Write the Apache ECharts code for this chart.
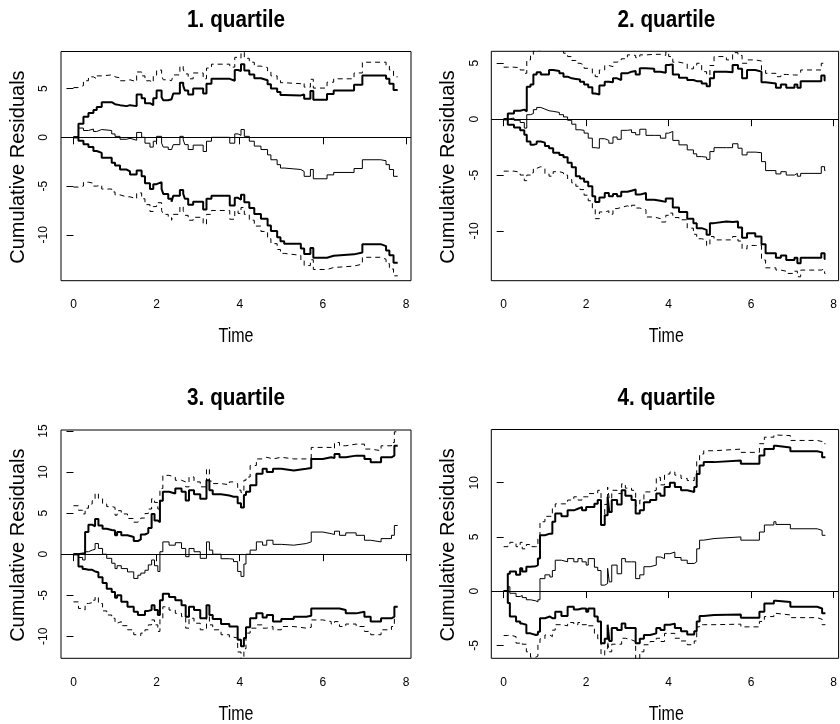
<!DOCTYPE html>
<html>
  <head>
    <meta charset="utf-8" />
    <title>Cumulative residuals by quartile</title>
    <script src="https://cdn.jsdelivr.net/npm/echarts@6/dist/echarts.min.js"></script>
    <style>html, body { margin: 0; padding: 0; background: #fff; }</style>
  </head>
  <body>
    <div id="main" style="width: 840px;height:724px;"></div>
    <script type="text/javascript">
      // values (step functions, value holds until next time)
      var titles = ['1. quartile', '2. quartile', '3. quartile', '4. quartile'];
      var xTicks = [0, 2, 4, 6, 8];
      var q1YTicks = [-10, -5, 0, 5];
      var q2YTicks = [-10, -5, 0, 5];
      var q3YTicks = [-10, -5, 0, 5, 10, 15];
      var q4YTicks = [-5, 0, 5, 10];

      // 1. quartile
      var q1Time = [0, 0.12, 0.24, 0.36, 0.48, 0.56, 0.68, 0.92, 1.0, 1.12, 1.28, 1.36, 1.52, 1.64, 1.72, 1.84, 1.92, 2.0, 2.12, 2.16,
        2.28, 2.36, 2.4, 2.56, 2.64, 2.68, 2.76, 2.88, 3.12, 3.2, 3.32, 3.76, 3.88, 3.96, 4.03, 4.11, 4.23, 4.35, 4.51, 4.67,
        4.75, 4.9, 4.98, 5.07, 5.47, 5.55, 5.7, 5.77, 6.1, 6.26, 6.75, 6.95, 7.39, 7.52, 7.6, 7.7, 7.8];
      var q1Obs = [0, 0.95, 0.7, 0.85, 0.6, 0.8, 0.7, 0.35, 0.1, -0.2, -0.1, -0.3, 0.5, 0.0, -0.6, -1.0, -0.4, 0.1, -0.6, -1.0,
        -1.25, -1.45, -0.75, 0.1, -0.25, -0.75, -1.25, -0.8, -1.45, -0.4, 0.0, -0.6, 0.35, 0.2, 0.8, 0.1, -0.4, -0.9, -1.25, -1.8,
        -2.3, -2.8, -3.15, -3.3, -3.5, -4.0, -3.3, -4.25, -3.85, -3.6, -3.2, -2.3, -2.4, -2.8, -3.3, -4.0, -4.0];
      var q1PtUp = [0, 1.4, 2.1, 2.5, 2.8, 3.1, 3.6, 3.4, 3.3, 3.2, 3.3, 3.2, 4.4, 4.0, 3.5, 3.3, 4.0, 4.8, 4.1, 3.8,
        3.9, 3.8, 4.5, 5.6, 5.3, 4.8, 4.4, 5.0, 4.5, 5.5, 6.0, 5.8, 6.9, 6.8, 7.5, 6.85, 6.45, 6.05, 5.85, 5.45,
        5.0, 4.65, 4.35, 4.3, 4.4, 3.95, 4.75, 3.85, 4.45, 4.8, 5.4, 6.35, 6.35, 6.0, 5.5, 4.85, 4.85];
      var q1PtLo = [0, -0.35, -0.7, -1.0, -1.4, -1.6, -2.1, -2.6, -2.9, -3.3, -3.5, -3.8, -3.4, -4.0, -4.7, -5.3, -4.8, -4.6, -5.3, -5.8,
        -6.3, -6.6, -6.0, -5.4, -5.8, -6.3, -6.9, -6.6, -7.4, -6.3, -6.0, -7.0, -6.2, -6.4, -5.9, -6.65, -7.25, -7.85, -8.35, -9.05,
        -9.6, -10.25, -10.65, -10.9, -11.4, -11.95, -11.35, -12.35, -12.15, -12.0, -11.8, -10.95, -11.15, -11.6, -12.1, -12.85, -12.85];
      var q1SimUp = [5.1, 5.3, 5.8, 6.2, 6.0, 6.3, 6.4, 6.2, 6.1, 5.8, 5.9, 5.7, 6.7, 6.3, 5.8, 5.6, 6.3, 6.9, 6.3, 5.9,
        5.8, 5.7, 6.4, 7.3, 7.0, 6.5, 6.0, 6.6, 6.0, 7.1, 7.5, 7.2, 8.2, 8.1, 8.7, 8.1, 7.7, 7.3, 7.15, 6.8,
        6.3, 5.9, 5.6, 5.5, 5.6, 5.15, 5.95, 5.05, 5.65, 6.0, 6.6, 7.7, 7.7, 7.35, 6.9, 6.2, 6.2];
      var q1SimLo = [-5.1, -5.0, -4.6, -4.7, -5.0, -4.9, -5.3, -5.6, -5.9, -6.1, -6.1, -6.3, -5.7, -6.3, -6.9, -7.6, -7.1, -6.7, -7.5, -7.9,
        -8.2, -8.5, -7.9, -7.1, -7.5, -8.0, -8.5, -8.2, -8.9, -7.9, -7.5, -8.4, -7.5, -7.8, -7.2, -7.9, -8.5, -9.1, -9.65, -10.4,
        -10.9, -11.5, -11.9, -12.1, -12.6, -13.15, -12.55, -13.55, -13.35, -13.2, -13.0, -12.3, -12.5, -12.95, -13.5, -14.2, -14.2];

      // 2. quartile
      var q2Time = [0, 0.1, 0.25, 0.4, 0.5, 0.56, 0.65, 0.72, 0.8, 0.9, 1.0, 1.1, 1.2, 1.35, 1.45, 1.55, 1.65, 1.75, 1.85, 1.95,
        2.05, 2.15, 2.22, 2.32, 2.45, 2.55, 2.65, 2.75, 2.85, 3.0, 3.1, 3.2, 3.3, 3.45, 3.65, 3.8, 3.93, 4.0, 4.1, 4.25,
        4.45, 4.6, 4.68, 4.8, 4.92, 5.0, 5.1, 5.4, 5.55, 5.68, 5.78, 5.9, 6.1, 6.25, 6.35, 6.6, 6.72, 6.85, 7.05, 7.12,
        7.2, 7.7, 7.78, 7.8];
      var q2Obs = [0, 0.1, -0.1, -0.3, -0.8, 0.4, 0.5, 0.85, 1.05, 0.9, 0.75, 0.7, 0.6, 0.4, 0.2, -0.1, -0.45, -0.95, -1.0, -1.25,
        -1.7, -2.55, -2.6, -1.75, -1.9, -2.15, -1.6, -1.8, -1.0, -0.95, -1.2, -1.4, -0.9, -1.45, -1.45, -1.7, -1.25, -1.1, -1.9, -2.3,
        -2.75, -3.1, -3.35, -3.4, -3.6, -2.9, -2.55, -2.55, -2.2, -2.6, -3.2, -2.95, -3.0, -3.8, -4.6, -4.9, -4.7, -5.0, -4.85, -5.1,
        -4.85, -4.25, -4.6, -4.6];
      var q2PtUp = [0, 0.5, 0.75, 0.85, 0.7, 2.9, 3.1, 4.0, 4.2, 4.0, 4.0, 4.4, 4.3, 4.1, 3.8, 3.65, 3.6, 3.55, 3.35, 3.1,
        2.85, 2.3, 2.2, 3.0, 3.35, 3.3, 3.65, 3.5, 4.1, 4.25, 4.3, 4.0, 4.55, 4.5, 4.25, 4.15, 4.85, 4.9, 4.0, 3.7,
        3.5, 3.4, 3.4, 3.2, 2.95, 3.65, 4.25, 4.2, 4.85, 4.5, 3.65, 4.4, 4.25, 3.3, 3.2, 2.8, 3.1, 2.8, 3.1, 2.8,
        3.4, 3.9, 3.45, 3.45];
      var q2PtLo = [0, -0.5, -0.75, -1.0, -1.4, -2.0, -2.3, -2.2, -2.0, -2.1, -2.4, -2.6, -3.0, -3.2, -3.4, -3.9, -4.3, -5.1, -5.3, -5.6,
        -6.0, -6.9, -7.4, -7.0, -6.6, -6.9, -6.7, -6.9, -6.5, -6.4, -6.3, -6.75, -6.6, -7.2, -7.3, -7.4, -7.1, -7.1, -7.9, -8.3,
        -8.9, -9.3, -9.75, -9.9, -10.35, -9.3, -9.15, -9.2, -9.15, -9.7, -10.6, -10.2, -10.5, -11.2, -12.0, -12.4, -12.2, -12.6, -12.4, -12.9,
        -12.4, -12.0, -12.5, -12.5];
      var q2SimUp = [4.65, 4.65, 4.6, 4.4, 4.1, 5.3, 5.75, 6.1, 6.2, 6.4, 6.3, 6.3, 6.2, 6.1, 5.9, 5.6, 5.25, 5.0, 4.85, 4.55,
        4.5, 4.0, 3.8, 4.4, 4.8, 4.7, 5.1, 5.2, 5.4, 5.75, 5.7, 5.5, 5.75, 5.8, 5.8, 5.7, 6.0, 5.6, 5.1, 4.95,
        4.5, 4.7, 5.0, 4.25, 3.95, 4.8, 5.6, 5.3, 5.95, 5.7, 5.0, 5.3, 5.2, 4.4, 4.1, 3.8, 4.0, 3.95, 3.95, 4.1,
        4.4, 5.0, 4.85, 4.85];
      var q2SimLo = [-4.65, -4.65, -4.75, -5.0, -5.5, -5.0, -4.8, -4.4, -4.25, -4.4, -4.9, -5.1, -4.7, -4.8, -5.0, -5.4, -5.7, -6.0, -6.3, -6.8,
        -7.3, -8.0, -8.9, -8.3, -8.2, -8.5, -8.0, -7.9, -7.75, -7.9, -7.7, -7.95, -8.1, -8.75, -8.9, -9.2, -8.6, -8.4, -8.8, -9.0,
        -9.75, -10.3, -10.7, -10.8, -11.3, -10.5, -10.8, -10.8, -10.5, -10.9, -11.6, -11.3, -11.3, -12.6, -13.3, -13.5, -13.6, -13.8, -13.6, -14.1,
        -13.5, -13.4, -13.8, -13.8];

      // 3. quartile
      var q3Time = [0, 0.12, 0.22, 0.28, 0.36, 0.45, 0.52, 0.6, 0.7, 0.8, 0.92, 1.0, 1.05, 1.15, 1.3, 1.45, 1.55, 1.62, 1.72, 1.8,
        1.88, 1.95, 2.03, 2.08, 2.15, 2.3, 2.45, 2.6, 2.7, 2.78, 2.9, 3.05, 3.2, 3.27, 3.35, 3.55, 3.75, 3.85, 3.95, 4.03,
        4.1, 4.15, 4.25, 4.4, 4.55, 4.65, 4.8, 5.0, 5.3, 5.6, 5.72, 6.0, 6.2, 6.28, 6.4, 6.55, 6.8, 7.0, 7.15, 7.4,
        7.65, 7.72, 7.8];
      var q3Obs = [0, -0.4, -0.7, 0.3, 0.5, 0.6, 1.3, 0.7, 0.0, -0.5, -1.1, -1.75, -1.4, -1.75, -2.15, -2.95, -2.55, -2.3, -1.95, -1.3,
        -0.7, -1.4, -2.1, 0.3, 1.5, 1.1, 1.4, 0.7, -0.3, 0.7, 0.3, -0.5, 1.5, 0.5, 0.0, -0.55, -0.6, -0.9, -2.1, -2.7,
        -1.2, 0.0, 0.5, 1.5, 1.1, 1.7, 1.2, 1.1, 1.3, 1.5, 2.7, 2.5, 2.4, 2.8, 2.3, 2.6, 2.3, 1.7, 1.5, 1.9,
        2.3, 3.5, 3.5];
      var q3PtUp = [0, 0.1, 0.1, 2.7, 3.6, 3.4, 4.3, 3.5, 3.1, 2.95, 2.9, 2.3, 2.7, 2.3, 2.1, 1.6, 1.8, 2.4, 2.6, 3.2,
        4.9, 4.1, 3.9, 6.5, 7.6, 7.4, 8.0, 7.6, 6.55, 7.8, 7.3, 6.75, 9.0, 7.8, 7.3, 7.15, 7.0, 7.0, 6.2, 5.7,
        7.2, 7.6, 8.4, 9.8, 10.4, 10.0, 10.4, 10.2, 10.4, 10.5, 11.6, 11.8, 11.7, 12.2, 11.8, 12.0, 12.0, 11.6, 11.2, 11.8,
        12.0, 13.2, 13.2];
      var q3PtLo = [0, -1.5, -1.8, -1.9, -1.9, -2.1, -2.2, -2.8, -3.5, -4.2, -4.6, -5.3, -5.0, -5.8, -6.4, -7.0, -7.4, -7.4, -6.9, -6.8,
        -6.2, -6.8, -7.4, -5.6, -4.8, -5.2, -5.6, -6.2, -7.6, -6.4, -6.8, -7.8, -6.2, -7.4, -7.9, -8.5, -8.8, -8.8, -10.4, -11.2,
        -10.2, -8.9, -7.8, -7.2, -7.7, -7.4, -8.2, -7.9, -7.6, -7.5, -6.6, -6.6, -6.6, -6.6, -6.8, -7.2, -7.0, -7.6, -8.2, -7.8,
        -7.6, -6.4, -6.4];
      var q3SimUp = [5.9, 5.35, 4.9, 5.6, 6.1, 6.5, 7.4, 6.8, 6.1, 5.8, 5.7, 4.75, 5.3, 4.9, 4.35, 3.9, 4.1, 4.4, 4.95, 5.5,
        6.75, 6.3, 5.5, 8.0, 9.6, 9.4, 9.0, 8.8, 8.2, 9.4, 8.8, 8.2, 10.4, 8.9, 8.6, 8.45, 8.8, 8.6, 7.8, 7.5,
        9.0, 9.4, 10.8, 11.6, 11.8, 11.6, 11.8, 11.6, 11.6, 11.7, 13.0, 13.0, 12.8, 13.6, 13.2, 13.4, 13.4, 12.8, 12.6, 13.2,
        13.6, 14.9, 14.9];
      var q3SimLo = [-5.8, -6.6, -6.8, -6.0, -5.9, -5.6, -5.2, -6.0, -6.9, -7.4, -7.8, -8.4, -8.2, -8.7, -9.2, -9.8, -9.9, -9.6, -9.2, -8.6,
        -8.0, -8.6, -9.4, -7.8, -6.4, -6.8, -7.2, -7.6, -9.0, -7.8, -8.4, -9.2, -7.4, -8.6, -9.2, -9.8, -10.1, -10.2, -11.9, -12.9,
        -11.5, -9.6, -9.0, -8.6, -9.0, -8.8, -9.2, -8.8, -9.0, -8.9, -8.0, -8.2, -8.5, -8.2, -8.8, -8.5, -8.8, -9.4, -9.8, -9.2,
        -8.8, -7.8, -7.8];

      // 4. quartile
      var q4Time = [0, 0.1, 0.15, 0.3, 0.4, 0.45, 0.55, 0.65, 0.78, 0.83, 0.88, 1.0, 1.12, 1.18, 1.25, 1.4, 1.55, 1.7, 1.8, 1.9,
        2.0, 2.05, 2.2, 2.28, 2.36, 2.45, 2.52, 2.56, 2.62, 2.75, 2.86, 2.95, 3.1, 3.2, 3.3, 3.4, 3.55, 3.7, 3.8, 3.9,
        4.03, 4.15, 4.3, 4.45, 4.62, 4.68, 4.75, 4.85, 5.1, 5.75, 6.2, 6.32, 6.55, 6.6, 6.95, 7.6, 7.72, 7.8];
      var q4Obs = [0, 0.4, -0.2, -0.5, -0.4, -0.6, -0.8, -0.9, -1.0, -0.8, 1.15, 1.5, 1.3, 1.9, 2.85, 2.7, 3.0, 2.7, 3.0, 2.7,
        2.4, 3.0, 2.2, 1.9, 0.55, 0.7, 2.1, 0.85, 2.4, 1.6, 3.0, 2.7, 2.7, 1.15, 1.5, 2.25, 2.4, 3.15, 3.0, 3.45,
        3.6, 3.1, 2.85, 2.55, 2.7, 3.9, 4.7, 4.85, 5.0, 4.7, 5.45, 6.1, 6.4, 6.15, 5.75, 5.6, 5.15, 5.15];
      var q4PtUp = [0, 1.6, 1.8, 1.5, 2.1, 1.8, 2.25, 2.3, 2.4, 3.0, 5.15, 5.3, 5.3, 6.4, 7.15, 6.9, 7.45, 7.6, 7.75, 7.45,
        7.75, 7.75, 8.05, 8.4, 6.1, 7.0, 8.7, 7.3, 8.4, 8.0, 9.3, 8.8, 8.4, 7.15, 7.45, 8.2, 8.4, 9.0, 8.8, 9.6,
        10.0, 9.6, 9.3, 9.15, 9.6, 10.8, 11.6, 11.9, 12.05, 11.75, 12.5, 13.1, 13.4, 13.25, 12.9, 12.8, 12.35, 12.35];
      var q4PtLo = [0, -1.1, -2.35, -2.8, -3.0, -3.1, -3.9, -4.05, -4.0, -3.75, -2.5, -2.35, -2.5, -2.5, -1.9, -2.3, -1.45, -1.7, -1.6, -1.6,
        -1.9, -1.6, -2.35, -2.8, -4.8, -4.4, -3.1, -4.6, -3.4, -3.6, -3.0, -3.4, -3.4, -4.8, -4.4, -4.05, -3.9, -3.4, -3.6, -3.1,
        -3.0, -3.4, -3.7, -4.0, -3.7, -2.8, -2.3, -2.2, -2.15, -2.45, -1.9, -1.15, -0.9, -1.0, -1.45, -1.6, -2.05, -2.05];
      var q4SimUp = [4.1, 4.3, 4.5, 4.1, 4.5, 3.9, 4.3, 4.1, 4.1, 4.85, 6.4, 6.9, 6.9, 7.6, 8.05, 8.05, 8.4, 8.7, 8.4, 8.7,
        8.7, 9.0, 9.0, 9.3, 7.0, 8.0, 9.6, 8.5, 9.3, 9.0, 9.9, 9.5, 9.3, 7.9, 8.4, 9.15, 9.3, 10.5, 9.8, 10.8,
        11.0, 10.7, 10.4, 10.2, 10.6, 12.05, 12.65, 12.95, 13.1, 12.8, 13.6, 14.2, 14.4, 14.35, 13.9, 13.8, 13.6, 13.6];
      var q4SimLo = [-4.1, -4.05, -4.2, -4.8, -4.7, -4.9, -5.6, -6.1, -6.0, -4.9, -4.4, -4.05, -4.2, -3.6, -3.1, -3.2, -2.9, -3.1, -2.9, -3.1,
        -3.0, -3.2, -3.9, -4.4, -6.3, -5.3, -4.65, -5.6, -4.9, -4.9, -4.35, -4.5, -4.65, -6.3, -5.6, -4.95, -4.65, -4.35, -4.65, -3.9,
        -3.9, -4.35, -4.6, -4.95, -4.6, -3.3, -3.1, -3.1, -3.05, -3.3, -2.8, -2.35, -2.05, -2.2, -2.45, -2.6, -3.1, -3.1];

      var panels = [
        { time: q1Time, obs: q1Obs, ptUp: q1PtUp, ptLo: q1PtLo, simUp: q1SimUp, simLo: q1SimLo, yTicks: q1YTicks,
          left: 61, top: 51.5, height: 229.2, yMin: -14.7, yMax: 8.8 },
        { time: q2Time, obs: q2Obs, ptUp: q2PtUp, ptLo: q2PtLo, simUp: q2SimUp, simLo: q2SimLo, yTicks: q2YTicks,
          left: 491.3, top: 51.3, height: 229.4, yMin: -14.45, yMax: 6.07 },
        { time: q3Time, obs: q3Obs, ptUp: q3PtUp, ptLo: q3PtLo, simUp: q3SimUp, simLo: q3SimLo, yTicks: q3YTicks,
          left: 61, top: 430, height: 228.3, yMin: -12.67, yMax: 15.12 },
        { time: q4Time, obs: q4Obs, ptUp: q4PtUp, ptLo: q4PtLo, simUp: q4SimUp, simLo: q4SimLo, yTicks: q4YTicks,
          left: 491.3, top: 429.5, height: 228.8, yMin: -6.2, yMax: 14.91 }
      ];
      var plotWidth = 350;
      var sans = "'Liberation Sans', Arial, sans-serif";

      function steps(time, vals) {
        return time.map(function (t, i) { return [t, vals[i]]; });
      }

      function curve(i, time, vals, width, dashed) {
        return {
          type: 'line',
          xAxisIndex: i,
          yAxisIndex: i,
          data: steps(time, vals),
          step: 'end',
          symbol: 'none',
          showSymbol: false,
          silent: true,
          lineStyle: { color: '#000', width: width, type: dashed ? [5, 4] : 'solid' }
        };
      }

      var grids = [], xAxes = [], yAxes = [], series = [], graphics = [];
      panels.forEach(function (p, i) {
        grids.push({
          left: p.left, top: p.top, width: plotWidth, height: p.height,
          show: true, borderColor: '#000', borderWidth: 1, backgroundColor: 'transparent'
        });
        xAxes.push({
          type: 'value', gridIndex: i, min: -0.3, max: 8.12,
          axisLine: { show: false },
          splitLine: { show: false },
          axisTick: { show: true, length: 7, customValues: xTicks, lineStyle: { color: '#000' } },
          axisLabel: { customValues: xTicks, color: '#000', fontSize: 12, fontFamily: sans, margin: 18 }
        });
        yAxes.push({
          type: 'value', gridIndex: i, min: p.yMin, max: p.yMax,
          axisLine: { show: false },
          splitLine: { show: false },
          axisTick: { show: true, length: 7, customValues: p.yTicks, lineStyle: { color: '#000' } },
          axisLabel: { customValues: p.yTicks, rotate: 90, color: '#000', fontSize: 12, fontFamily: sans, margin: 11 }
        });

        var obs = curve(i, p.time, p.obs, 1, false);
        obs.markLine = {
          silent: true, animation: false,
          symbol: ['none', 'none'],
          label: { show: false },
          lineStyle: { color: '#000', width: 1, type: 'solid' },
          data: [{ yAxis: 0 }]
        };
        series.push(obs);
        series.push(curve(i, p.time, p.ptUp, 2, false));
        series.push(curve(i, p.time, p.ptLo, 2, false));
        series.push(curve(i, p.time, p.simUp, 1, true));
        series.push(curve(i, p.time, p.simLo, 1, true));

        // R draws these labels in a condensed face; squeeze them horizontally
        var cx = p.left + plotWidth / 2;
        graphics.push({
          type: 'text', x: cx, y: p.top - 31, scaleX: 0.9,
          style: { text: titles[i], font: 'bold 23px ' + sans, fill: '#000',
                   textAlign: 'center', textVerticalAlign: 'middle', align: 'center', verticalAlign: 'middle' }
        });
        graphics.push({
          type: 'text', x: cx, y: p.top + p.height + 56, scaleX: 0.8,
          style: { text: 'Time', font: '20px ' + sans, fill: '#000',
                   textAlign: 'center', textVerticalAlign: 'middle', align: 'center', verticalAlign: 'middle' }
        });
        graphics.push({
          type: 'text', x: p.left - 42.5, y: p.top + p.height / 2 + 1, rotation: Math.PI / 2,
          style: { text: 'Cumulative Residuals', font: '20px ' + sans, fill: '#000',
                   textAlign: 'center', textVerticalAlign: 'middle', align: 'center', verticalAlign: 'middle' }
        });
      });

      var myChart = echarts.init(document.getElementById('main'));
      myChart.setOption({
        animation: false,
        backgroundColor: '#fff',
        grid: grids,
        xAxis: xAxes,
        yAxis: yAxes,
        series: series,
        graphic: graphics
      });
    </script>
  </body>
</html>
